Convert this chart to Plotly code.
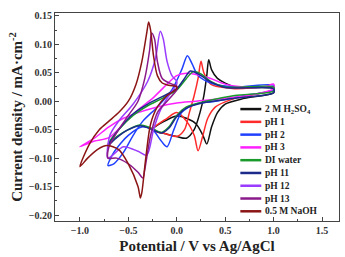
import plotly.graph_objects as go

labels = ["2 M H<sub>2</sub>SO<sub>4</sub>", "pH 1", "pH 2", "pH 3", "DI water",
          "pH 11", "pH 12", "pH 13", "0.5 M NaOH"]
colors = ["#111111", "#ff2a2a", "#2040ff", "#ff20ff", "#1a9a2a",
          "#1c2a8c", "#9a3cff", "#8a1a8a", "#8b1414"]

# potential (V) / current density (mA cm^-2) loops: forward then reverse scan
h2so4_x = [-0.25, -0.1, 0.0, 0.1, 0.18, 0.24, 0.28, 0.31, 0.33, 0.36, 0.42, 0.6, 1.0,
           1.0, 0.7, 0.5, 0.42, 0.36, 0.31, 0.27, 0.2, 0.1, 0.0, -0.25]
h2so4_y = [-0.05, -0.058, -0.062, -0.065, -0.05, -0.02, 0.01, 0.045, 0.073, 0.055, 0.04, 0.025, 0.022,
           0.015, 0.005, -0.005, -0.02, -0.045, -0.075, -0.06, -0.04, -0.03, -0.026, -0.05]

ph1_x = [-0.25, -0.1, 0.0, 0.08, 0.13, 0.18, 0.22, 0.25, 0.28, 0.35, 0.6, 1.0,
         1.0, 0.6, 0.4, 0.32, 0.27, 0.22, 0.18, 0.1, 0.0, -0.1, -0.25]
ph1_y = [-0.05, -0.058, -0.062, -0.05, -0.02, 0.01, 0.04, 0.07, 0.05, 0.03, 0.022, 0.025,
         0.02, 0.005, -0.01, -0.03, -0.06, -0.087, -0.06, -0.035, -0.02, -0.03, -0.05]

ph2_x = [-0.71, -0.65, -0.55, -0.45, -0.35, -0.2, -0.05, 0.05, 0.11, 0.16, 0.22, 0.35, 0.6, 1.0,
         1.0, 0.7, 0.4, 0.2, 0.05, -0.03, -0.1, -0.16, -0.25, -0.35, -0.5, -0.65, -0.71]
ph2_y = [-0.113, -0.11, -0.09, -0.06, -0.035, -0.01, 0.02, 0.055, 0.08, 0.065, 0.045, 0.032, 0.025, 0.028,
         0.02, 0.01, 0.0, -0.005, -0.02, -0.05, -0.08, -0.07, -0.05, -0.045, -0.06, -0.09, -0.113]

ph3_x = [-1.0, -0.85, -0.7, -0.55, -0.4, -0.25, -0.1, 0.0, 0.1, 0.2, 0.35, 0.5, 0.7, 0.9, 1.0,
         1.0, 0.8, 0.5, 0.2, 0.0, -0.2, -0.4, -0.55, -0.7, -0.85, -1.0]
ph3_y = [-0.08, -0.07, -0.064, -0.04, -0.015, 0.005, 0.03, 0.045, 0.049, 0.047, 0.04, 0.03, 0.025, 0.025, 0.03,
         0.022, 0.012, 0.005, 0.0, -0.003, -0.01, -0.02, -0.03, -0.045, -0.065, -0.08]

di_x = [-0.71, -0.6, -0.45, -0.3, -0.15, 0.0, 0.1, 0.17, 0.25, 0.35, 0.5, 1.0,
        1.0, 0.6, 0.3, 0.1, 0.0, -0.08, -0.16, -0.25, -0.38, -0.5, -0.62, -0.71]
di_y = [-0.075, -0.05, -0.025, -0.008, 0.005, 0.02, 0.04, 0.052, 0.048, 0.035, 0.025, 0.025,
        0.018, 0.01, 0.0, -0.01, -0.025, -0.045, -0.055, -0.048, -0.042, -0.05, -0.062, -0.075]

ph11_x = [-0.71, -0.6, -0.45, -0.3, -0.15, 0.0, 0.08, 0.14, 0.22, 0.35, 0.5, 1.0,
          1.0, 0.6, 0.3, 0.1, 0.0, -0.08, -0.16, -0.25, -0.38, -0.5, -0.62, -0.71]
ph11_y = [-0.078, -0.05, -0.022, -0.005, 0.008, 0.022, 0.04, 0.053, 0.048, 0.034, 0.024, 0.022,
          0.015, 0.005, -0.002, -0.012, -0.027, -0.047, -0.056, -0.05, -0.043, -0.05, -0.064, -0.078]

ph12_x = [-0.71, -0.69, -0.6, -0.45, -0.3, -0.22, -0.17, -0.14, -0.1, -0.05, 0.0,
          0.0, -0.1, -0.18, -0.24, -0.31, -0.4, -0.55, -0.71]
ph12_y = [-0.10, -0.06, -0.035, -0.005, 0.035, 0.075, 0.123, 0.11, 0.07, 0.045, 0.035,
          0.03, 0.005, -0.02, -0.05, -0.095, -0.088, -0.08, -0.10]

ph13_x = [-0.71, -0.7, -0.6, -0.5, -0.4, -0.33, -0.28, -0.26, -0.23, -0.2, -0.15, -0.05, 0.0,
          0.0, -0.1, -0.2, -0.27, -0.33, -0.35, -0.4, -0.5, -0.62, -0.71]
ph13_y = [-0.10, -0.08, -0.05, -0.025, 0.0, 0.04, 0.09, 0.12, 0.11, 0.07, 0.04, 0.03, 0.027,
          0.02, 0.0, -0.02, -0.06, -0.12, -0.135, -0.125, -0.11, -0.1, -0.10]

naoh_x = [-1.0, -0.9, -0.8, -0.7, -0.6, -0.5, -0.42, -0.36, -0.31, -0.29, -0.27, -0.24, -0.2, -0.15, -0.08, 0.0,
          0.0, -0.1, -0.2, -0.27, -0.32, -0.36, -0.375, -0.4, -0.5, -0.6, -0.72, -0.82, -0.92, -1.0]
naoh_y = [-0.115, -0.075, -0.05, -0.035, -0.02, 0.0, 0.03, 0.07, 0.12, 0.139, 0.125, 0.08, 0.045, 0.032, 0.028, 0.025,
          0.022, 0.01, -0.01, -0.04, -0.1, -0.16, -0.17, -0.15, -0.11, -0.085, -0.078, -0.085, -0.1, -0.115]

xs = [h2so4_x, ph1_x, ph2_x, ph3_x, di_x, ph11_x, ph12_x, ph13_x, naoh_x]
ys = [h2so4_y, ph1_y, ph2_y, ph3_y, di_y, ph11_y, ph12_y, ph13_y, naoh_y]

serif = "Liberation Serif"
W, H = 345, 257
ML, MR, MT, MB = 55, 5, 13, 34
PW, PH = W - ML - MR, H - MT - MB

fig = go.Figure()
for lab, col, x, y in zip(labels, colors, xs, ys):
    fig.add_trace(go.Scatter(x=x, y=y, mode="lines", name=lab, showlegend=False,
                             line=dict(color=col, width=1.5, shape="spline", smoothing=0.8)))

# compact legend drawn inside the plot area (paper coordinates)
leg_x0, leg_x1, leg_tx = 241, 262, 264
leg_y0, leg_dy = 110, 12.9
for i, (lab, col) in enumerate(zip(labels, colors)):
    py = leg_y0 + i * leg_dy
    yp = (H - MB - py) / PH
    fig.add_shape(type="line", xref="paper", yref="paper",
                  x0=(leg_x0 - ML) / PW, x1=(leg_x1 - ML) / PW, y0=yp, y1=yp,
                  line=dict(color=col, width=2.5))
    fig.add_annotation(xref="paper", yref="paper", x=(leg_tx - ML) / PW, y=yp,
                       text=lab, showarrow=False, xanchor="left", yanchor="middle",
                       font=dict(family=serif, size=9.5, color="#222", weight="bold"))

axis_common = dict(showline=True, linecolor="#444", linewidth=1, mirror=True,
                   ticks="inside", ticklen=4, tickcolor="#444", showgrid=False, zeroline=False,
                   tickfont=dict(family=serif, size=10, color="#333", weight="bold"))
fig.update_xaxes(range=[-1.257, 1.675], tickvals=[-1.0, -0.5, 0.0, 0.5, 1.0, 1.5], tickformat=".1f",
                 minor=dict(ticks="inside", ticklen=2, tickcolor="#444", dtick=0.25, tick0=0),
                 title=dict(text="Potential / V vs Ag/AgCl", standoff=5,
                            font=dict(family=serif, size=15, color="#222", weight="bold")),
                 **axis_common)
fig.update_yaxes(range=[-0.2105, 0.155], dtick=0.05, tick0=0, tickformat=".2f",
                 minor=dict(ticks="inside", ticklen=2, tickcolor="#444", dtick=0.025, tick0=0),
                 title=dict(text="Current density / mA·cm<sup>-2</sup>", standoff=2,
                            font=dict(family=serif, size=15, color="#222", weight="bold")),
                 **axis_common)
fig.update_layout(width=W, height=H, margin=dict(l=ML, r=MR, t=MT, b=MB),
                  paper_bgcolor="white", plot_bgcolor="white", showlegend=False)
fig.write_html("out.html")
